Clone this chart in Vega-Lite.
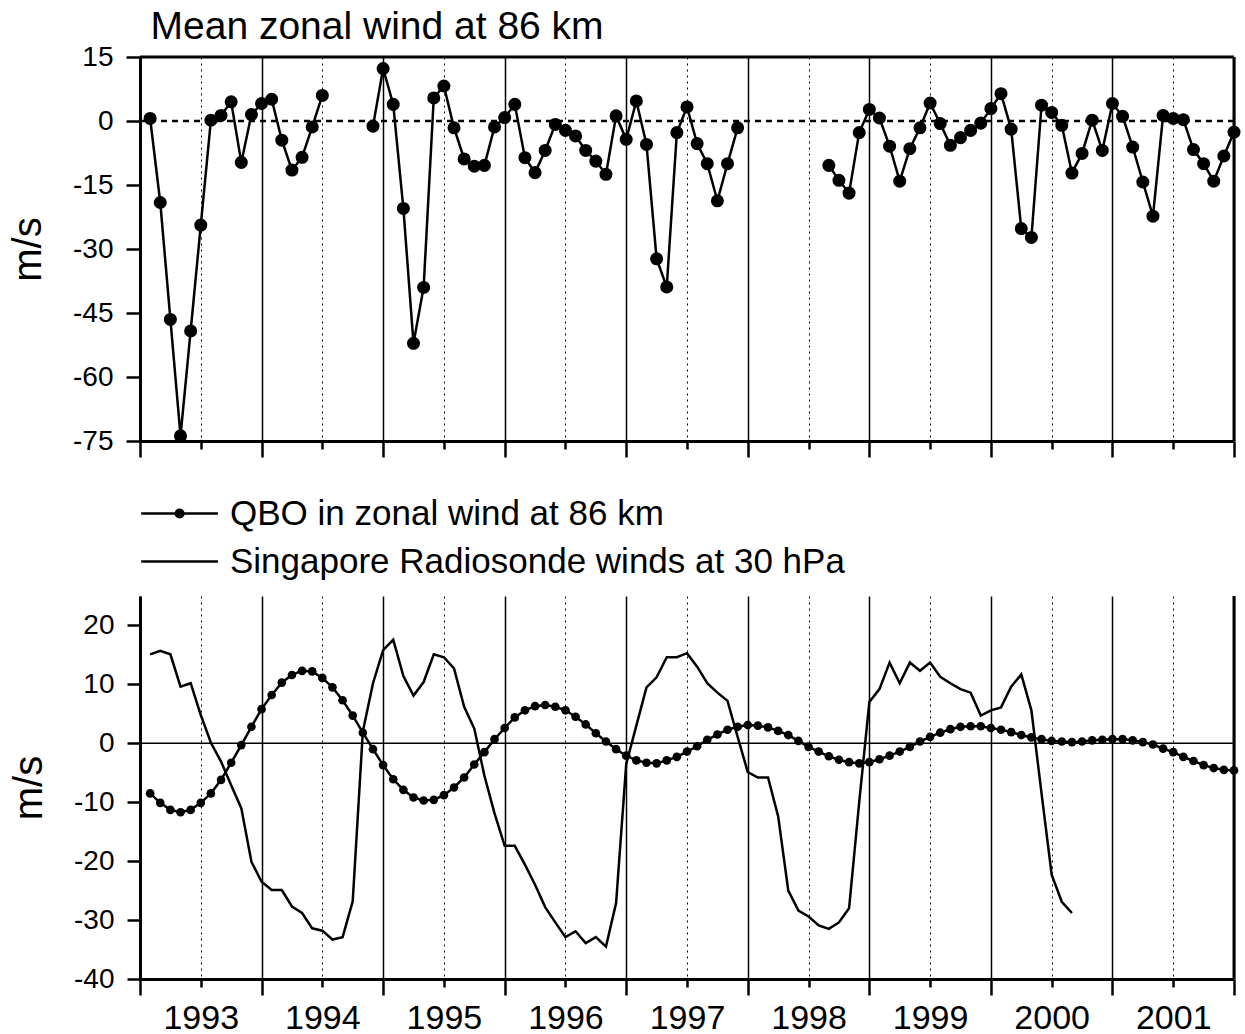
{
  "$schema": "https://vega.github.io/schema/vega-lite/v6.json",
  "padding": {"left": 8, "top": 8, "right": 5, "bottom": 0},
  "spacing": 37,
  "bounds": "full",
  "title": {"text": "Mean zonal wind at 86 km", "anchor": "start", "fontSize": 39, "font": "Liberation Sans", "fontWeight": "normal", "color": "black", "dx": 142, "offset": -35, "baseline": "alphabetic"},
  "resolve": {"scale": {"color": "independent"}, "legend": {"color": "independent"}},
  "config": {
    "font": "Liberation Sans",
    "view": {"stroke": null},
    "axis": {
      "domainColor": "black", "domainWidth": 3, "tickColor": "black", "tickWidth": 2.5,
      "labelColor": "black", "titleColor": "black", "labelFont": "Liberation Sans",
      "titleFont": "Liberation Sans", "titleFontWeight": "normal", "gridColor": "black"
    }
  },
  "datasets": {
    "top": [
      {"t":1993.0833,"v":0.6},{"t":1993.1667,"v":-19.1},{"t":1993.25,"v":-46.5},{"t":1993.3333,"v":-73.8},
      {"t":1993.4167,"v":-49.2},{"t":1993.5,"v":-24.4},{"t":1993.5833,"v":0.2},{"t":1993.6667,"v":1.3},
      {"t":1993.75,"v":4.5},{"t":1993.8333,"v":-9.7},{"t":1993.9167,"v":1.5},{"t":1994,"v":4.1},
      {"t":1994.0833,"v":5.1},{"t":1994.1667,"v":-4.5},{"t":1994.25,"v":-11.5},{"t":1994.3333,"v":-8.5},
      {"t":1994.4167,"v":-1.4},{"t":1994.5,"v":6.0},{"t":1994.5833,"v":null},{"t":1994.6667,"v":null},
      {"t":1994.75,"v":null},{"t":1994.8333,"v":null},{"t":1994.9167,"v":-1.2},{"t":1995,"v":12.3},
      {"t":1995.0833,"v":3.9},{"t":1995.1667,"v":-20.5},{"t":1995.25,"v":-52.1},{"t":1995.3333,"v":-39.0},
      {"t":1995.4167,"v":5.4},{"t":1995.5,"v":8.2},{"t":1995.5833,"v":-1.6},{"t":1995.6667,"v":-8.9},
      {"t":1995.75,"v":-10.6},{"t":1995.8333,"v":-10.4},{"t":1995.9167,"v":-1.4},{"t":1996,"v":0.8},
      {"t":1996.0833,"v":3.9},{"t":1996.1667,"v":-8.6},{"t":1996.25,"v":-12.1},{"t":1996.3333,"v":-6.9},
      {"t":1996.4167,"v":-0.8},{"t":1996.5,"v":-2.2},{"t":1996.5833,"v":-3.5},{"t":1996.6667,"v":-6.9},
      {"t":1996.75,"v":-9.4},{"t":1996.8333,"v":-12.5},{"t":1996.9167,"v":1.2},{"t":1997,"v":-4.3},
      {"t":1997.0833,"v":4.7},{"t":1997.1667,"v":-5.5},{"t":1997.25,"v":-32.3},{"t":1997.3333,"v":-38.9},
      {"t":1997.4167,"v":-2.7},{"t":1997.5,"v":3.3},{"t":1997.5833,"v":-5.3},{"t":1997.6667,"v":-10.0},
      {"t":1997.75,"v":-18.7},{"t":1997.8333,"v":-10.0},{"t":1997.9167,"v":-1.6},{"t":1998,"v":null},
      {"t":1998.0833,"v":null},{"t":1998.1667,"v":null},{"t":1998.25,"v":null},{"t":1998.3333,"v":null},
      {"t":1998.4167,"v":null},{"t":1998.5,"v":null},{"t":1998.5833,"v":null},{"t":1998.6667,"v":-10.4},
      {"t":1998.75,"v":-13.9},{"t":1998.8333,"v":-16.9},{"t":1998.9167,"v":-2.7},{"t":1999,"v":2.7},
      {"t":1999.0833,"v":0.7},{"t":1999.1667,"v":-5.9},{"t":1999.25,"v":-14.1},{"t":1999.3333,"v":-6.5},
      {"t":1999.4167,"v":-1.6},{"t":1999.5,"v":4.2},{"t":1999.5833,"v":-0.6},{"t":1999.6667,"v":-5.7},
      {"t":1999.75,"v":-3.9},{"t":1999.8333,"v":-2.2},{"t":1999.9167,"v":-0.5},{"t":2000,"v":2.9},
      {"t":2000.0833,"v":6.4},{"t":2000.1667,"v":-1.9},{"t":2000.25,"v":-25.2},{"t":2000.3333,"v":-27.3},
      {"t":2000.4167,"v":3.7},{"t":2000.5,"v":2.0},{"t":2000.5833,"v":-1.0},{"t":2000.6667,"v":-12.2},
      {"t":2000.75,"v":-7.6},{"t":2000.8333,"v":0.2},{"t":2000.9167,"v":-6.9},{"t":2001,"v":4.1},
      {"t":2001.0833,"v":1.1},{"t":2001.1667,"v":-6.1},{"t":2001.25,"v":-14.3},{"t":2001.3333,"v":-22.3},
      {"t":2001.4167,"v":1.3},{"t":2001.5,"v":0.6},{"t":2001.5833,"v":0.3},{"t":2001.6667,"v":-6.7},
      {"t":2001.75,"v":-10.0},{"t":2001.8333,"v":-14.1},{"t":2001.9167,"v":-8.2},{"t":2002,"v":-2.6}
    ],
    "bot": [
      {"s":"QBO","t":1993.0833,"v":-8.5},{"s":"QBO","t":1993.1667,"v":-10.1},{"s":"QBO","t":1993.25,"v":-11.3},
      {"s":"QBO","t":1993.3333,"v":-11.7},{"s":"QBO","t":1993.4167,"v":-11.3},{"s":"QBO","t":1993.5,"v":-10.1},
      {"s":"QBO","t":1993.5833,"v":-8.5},{"s":"QBO","t":1993.6667,"v":-6.2},{"s":"QBO","t":1993.75,"v":-3.3},
      {"s":"QBO","t":1993.8333,"v":-0.3},{"s":"QBO","t":1993.9167,"v":2.8},{"s":"QBO","t":1994,"v":5.8},
      {"s":"QBO","t":1994.0833,"v":8.2},{"s":"QBO","t":1994.1667,"v":10.3},{"s":"QBO","t":1994.25,"v":11.6},
      {"s":"QBO","t":1994.3333,"v":12.3},{"s":"QBO","t":1994.4167,"v":12.2},{"s":"QBO","t":1994.5,"v":11.1},
      {"s":"QBO","t":1994.5833,"v":9.5},{"s":"QBO","t":1994.6667,"v":7.3},{"s":"QBO","t":1994.75,"v":4.7},
      {"s":"QBO","t":1994.8333,"v":1.8},{"s":"QBO","t":1994.9167,"v":-1.0},{"s":"QBO","t":1995,"v":-3.7},
      {"s":"QBO","t":1995.0833,"v":-6.1},{"s":"QBO","t":1995.1667,"v":-7.9},{"s":"QBO","t":1995.25,"v":-9.2},
      {"s":"QBO","t":1995.3333,"v":-9.7},{"s":"QBO","t":1995.4167,"v":-9.6},{"s":"QBO","t":1995.5,"v":-8.8},
      {"s":"QBO","t":1995.5833,"v":-7.5},{"s":"QBO","t":1995.6667,"v":-5.8},{"s":"QBO","t":1995.75,"v":-3.6},
      {"s":"QBO","t":1995.8333,"v":-1.5},{"s":"QBO","t":1995.9167,"v":0.7},{"s":"QBO","t":1996,"v":2.6},
      {"s":"QBO","t":1996.0833,"v":4.4},{"s":"QBO","t":1996.1667,"v":5.6},{"s":"QBO","t":1996.25,"v":6.3},
      {"s":"QBO","t":1996.3333,"v":6.5},{"s":"QBO","t":1996.4167,"v":6.2},{"s":"QBO","t":1996.5,"v":5.6},
      {"s":"QBO","t":1996.5833,"v":4.5},{"s":"QBO","t":1996.6667,"v":3.2},{"s":"QBO","t":1996.75,"v":1.7},
      {"s":"QBO","t":1996.8333,"v":0.3},{"s":"QBO","t":1996.9167,"v":-1.0},{"s":"QBO","t":1997,"v":-2.1},
      {"s":"QBO","t":1997.0833,"v":-2.9},{"s":"QBO","t":1997.1667,"v":-3.3},{"s":"QBO","t":1997.25,"v":-3.4},
      {"s":"QBO","t":1997.3333,"v":-2.9},{"s":"QBO","t":1997.4167,"v":-2.3},{"s":"QBO","t":1997.5,"v":-1.4},
      {"s":"QBO","t":1997.5833,"v":-0.5},{"s":"QBO","t":1997.6667,"v":0.6},{"s":"QBO","t":1997.75,"v":1.5},
      {"s":"QBO","t":1997.8333,"v":2.3},{"s":"QBO","t":1997.9167,"v":2.8},{"s":"QBO","t":1998,"v":3.1},
      {"s":"QBO","t":1998.0833,"v":3.0},{"s":"QBO","t":1998.1667,"v":2.7},{"s":"QBO","t":1998.25,"v":2.1},
      {"s":"QBO","t":1998.3333,"v":1.4},{"s":"QBO","t":1998.4167,"v":0.4},{"s":"QBO","t":1998.5,"v":-0.6},
      {"s":"QBO","t":1998.5833,"v":-1.4},{"s":"QBO","t":1998.6667,"v":-2.2},{"s":"QBO","t":1998.75,"v":-2.8},
      {"s":"QBO","t":1998.8333,"v":-3.2},{"s":"QBO","t":1998.9167,"v":-3.4},{"s":"QBO","t":1999,"v":-3.2},
      {"s":"QBO","t":1999.0833,"v":-2.7},{"s":"QBO","t":1999.1667,"v":-2.1},{"s":"QBO","t":1999.25,"v":-1.4},
      {"s":"QBO","t":1999.3333,"v":-0.6},{"s":"QBO","t":1999.4167,"v":0.3},{"s":"QBO","t":1999.5,"v":1.1},
      {"s":"QBO","t":1999.5833,"v":1.8},{"s":"QBO","t":1999.6667,"v":2.4},{"s":"QBO","t":1999.75,"v":2.8},
      {"s":"QBO","t":1999.8333,"v":2.9},{"s":"QBO","t":1999.9167,"v":2.9},{"s":"QBO","t":2000,"v":2.6},
      {"s":"QBO","t":2000.0833,"v":2.3},{"s":"QBO","t":2000.1667,"v":1.9},{"s":"QBO","t":2000.25,"v":1.4},
      {"s":"QBO","t":2000.3333,"v":1.0},{"s":"QBO","t":2000.4167,"v":0.7},{"s":"QBO","t":2000.5,"v":0.4},
      {"s":"QBO","t":2000.5833,"v":0.3},{"s":"QBO","t":2000.6667,"v":0.2},{"s":"QBO","t":2000.75,"v":0.3},
      {"s":"QBO","t":2000.8333,"v":0.5},{"s":"QBO","t":2000.9167,"v":0.6},{"s":"QBO","t":2001,"v":0.7},
      {"s":"QBO","t":2001.0833,"v":0.7},{"s":"QBO","t":2001.1667,"v":0.5},{"s":"QBO","t":2001.25,"v":0.2},
      {"s":"QBO","t":2001.3333,"v":-0.2},{"s":"QBO","t":2001.4167,"v":-0.9},{"s":"QBO","t":2001.5,"v":-1.5},
      {"s":"QBO","t":2001.5833,"v":-2.3},{"s":"QBO","t":2001.6667,"v":-3.0},{"s":"QBO","t":2001.75,"v":-3.7},
      {"s":"QBO","t":2001.8333,"v":-4.2},{"s":"QBO","t":2001.9167,"v":-4.5},{"s":"QBO","t":2002,"v":-4.6},
      {"s":"SING","t":1993.0833,"v":15.1},{"s":"SING","t":1993.1667,"v":15.7},{"s":"SING","t":1993.25,"v":15.1},
      {"s":"SING","t":1993.3333,"v":9.6},{"s":"SING","t":1993.4167,"v":10.2},{"s":"SING","t":1993.5,"v":4.8},
      {"s":"SING","t":1993.5833,"v":0.1},{"s":"SING","t":1993.6667,"v":-3.1},{"s":"SING","t":1993.75,"v":-7.1},
      {"s":"SING","t":1993.8333,"v":-11.0},{"s":"SING","t":1993.9167,"v":-20.1},{"s":"SING","t":1994,"v":-23.5},
      {"s":"SING","t":1994.0833,"v":-24.9},{"s":"SING","t":1994.1667,"v":-24.9},{"s":"SING","t":1994.25,"v":-27.7},
      {"s":"SING","t":1994.3333,"v":-28.8},{"s":"SING","t":1994.4167,"v":-31.4},{"s":"SING","t":1994.5,"v":-31.8},
      {"s":"SING","t":1994.5833,"v":-33.3},{"s":"SING","t":1994.6667,"v":-32.9},{"s":"SING","t":1994.75,"v":-26.8},
      {"s":"SING","t":1994.8333,"v":2.0},{"s":"SING","t":1994.9167,"v":10.2},{"s":"SING","t":1995,"v":15.8},
      {"s":"SING","t":1995.0833,"v":17.6},{"s":"SING","t":1995.1667,"v":11.4},{"s":"SING","t":1995.25,"v":8.1},
      {"s":"SING","t":1995.3333,"v":10.4},{"s":"SING","t":1995.4167,"v":15.1},{"s":"SING","t":1995.5,"v":14.6},
      {"s":"SING","t":1995.5833,"v":12.7},{"s":"SING","t":1995.6667,"v":6.2},{"s":"SING","t":1995.75,"v":2.5},
      {"s":"SING","t":1995.8333,"v":-5.5},{"s":"SING","t":1995.9167,"v":-11.9},{"s":"SING","t":1996,"v":-17.4},
      {"s":"SING","t":1996.0833,"v":-17.4},{"s":"SING","t":1996.1667,"v":-20.6},{"s":"SING","t":1996.25,"v":-24.0},
      {"s":"SING","t":1996.3333,"v":-27.8},{"s":"SING","t":1996.4167,"v":-30.4},{"s":"SING","t":1996.5,"v":-32.9},
      {"s":"SING","t":1996.5833,"v":-31.9},{"s":"SING","t":1996.6667,"v":-33.9},{"s":"SING","t":1996.75,"v":-32.9},
      {"s":"SING","t":1996.8333,"v":-34.5},{"s":"SING","t":1996.9167,"v":-27.1},{"s":"SING","t":1997,"v":-3.5},
      {"s":"SING","t":1997.0833,"v":3.0},{"s":"SING","t":1997.1667,"v":9.5},{"s":"SING","t":1997.25,"v":11.2},
      {"s":"SING","t":1997.3333,"v":14.6},{"s":"SING","t":1997.4167,"v":14.6},{"s":"SING","t":1997.5,"v":15.3},
      {"s":"SING","t":1997.5833,"v":13.0},{"s":"SING","t":1997.6667,"v":10.2},{"s":"SING","t":1997.75,"v":8.6},
      {"s":"SING","t":1997.8333,"v":7.2},{"s":"SING","t":1997.9167,"v":1.1},{"s":"SING","t":1998,"v":-4.9},
      {"s":"SING","t":1998.0833,"v":-5.8},{"s":"SING","t":1998.1667,"v":-5.8},{"s":"SING","t":1998.25,"v":-12.4},
      {"s":"SING","t":1998.3333,"v":-25.0},{"s":"SING","t":1998.4167,"v":-28.4},{"s":"SING","t":1998.5,"v":-29.4},
      {"s":"SING","t":1998.5833,"v":-30.9},{"s":"SING","t":1998.6667,"v":-31.5},{"s":"SING","t":1998.75,"v":-30.4},
      {"s":"SING","t":1998.8333,"v":-28.0},{"s":"SING","t":1998.9167,"v":-10.0},{"s":"SING","t":1999,"v":7.0},
      {"s":"SING","t":1999.0833,"v":9.2},{"s":"SING","t":1999.1667,"v":13.7},{"s":"SING","t":1999.25,"v":10.2},
      {"s":"SING","t":1999.3333,"v":13.7},{"s":"SING","t":1999.4167,"v":12.3},{"s":"SING","t":1999.5,"v":13.7},
      {"s":"SING","t":1999.5833,"v":11.3},{"s":"SING","t":1999.6667,"v":10.2},{"s":"SING","t":1999.75,"v":9.2},
      {"s":"SING","t":1999.8333,"v":8.6},{"s":"SING","t":1999.9167,"v":4.7},{"s":"SING","t":2000,"v":5.6},
      {"s":"SING","t":2000.0833,"v":6.1},{"s":"SING","t":2000.1667,"v":9.6},{"s":"SING","t":2000.25,"v":11.7},
      {"s":"SING","t":2000.3333,"v":5.6},{"s":"SING","t":2000.4167,"v":-8.5},{"s":"SING","t":2000.5,"v":-22.3},
      {"s":"SING","t":2000.5833,"v":-26.9},{"s":"SING","t":2000.6667,"v":-28.8}
    ]
  },
  "vconcat": [
    {
      "width": 1094,
      "height": 384,
      "layer": [
        {
          "data": {"values": [{}]},
          "mark": {"type": "rule", "color": "black", "strokeWidth": 2.5, "strokeDash": [6, 5]},
          "encoding": {"y": {"datum": 0, "type": "quantitative"}}
        },
        {
          "data": {"values": [{}]},
          "mark": {"type": "rule", "color": "black", "strokeWidth": 3},
          "encoding": {"y": {"datum": 15, "type": "quantitative"}}
        },
        {
          "data": {"values": [{}]},
          "mark": {"type": "rule", "color": "black", "strokeWidth": 3},
          "encoding": {"x": {"datum": 2002, "type": "quantitative"}}
        },
        {
          "data": {"name": "top"},
          "mark": {"type": "line", "color": "black", "strokeWidth": 2.5, "invalid": "break-paths-filter-domains"},
          "encoding": {
            "x": {"field": "t", "type": "quantitative",
              "scale": {"domain": [1993, 2002], "nice": false, "zero": false},
              "axis": {"title": null, "labels": false, "grid": true,
                "values": [1993,1993.25,1993.5,1993.75,1994,1994.25,1994.5,1994.75,1995,1995.25,1995.5,1995.75,1996,1996.25,1996.5,1996.75,1997,1997.25,1997.5,1997.75,1998,1998.25,1998.5,1998.75,1999,1999.25,1999.5,1999.75,2000,2000.25,2000.5,2000.75,2001,2001.25,2001.5,2001.75,2002],
                "gridDash": {"condition": {"test": "datum.value % 1 != 0", "value": [2, 4]}, "value": []},
                "gridWidth": {"condition": {"test": "datum.value % 1 != 0", "value": 1}, "value": 1.5},
                "tickSize": {"condition": {"test": "datum.value % 1 != 0", "value": 8}, "value": 16}
              }
            },
            "y": {"field": "v", "type": "quantitative",
              "scale": {"domain": [-75, 15], "nice": false, "zero": false},
              "axis": {"title": "m/s", "titleFontSize": 40, "titlePadding": 24, "values": [-75, -60, -45, -30, -15, 0, 15],
                "labelExpr": "'' + datum.value",
                "tickSize": 14, "labelPadding": 13, "labelFontSize": 28, "grid": false}
            }
          }
        },
        {
          "data": {"name": "top"},
          "mark": {"type": "circle", "color": "black", "size": 170, "opacity": 1},
          "encoding": {
            "x": {"field": "t", "type": "quantitative"},
            "y": {"field": "v", "type": "quantitative"}
          }
        }
      ]
    },
    {
      "width": 1094,
      "height": 383,
      "layer": [
        {
          "data": {"values": [{}]},
          "mark": {"type": "rule", "color": "black", "strokeWidth": 1.5},
          "encoding": {"y": {"datum": 0, "type": "quantitative"}}
        },
        {
          "data": {"values": [{}]},
          "mark": {"type": "rule", "color": "black", "strokeWidth": 3},
          "encoding": {"x": {"datum": 2002, "type": "quantitative"}}
        },
        {
          "data": {"name": "bot"},
          "mark": {"type": "line", "strokeWidth": 2.5},
          "encoding": {
            "x": {"field": "t", "type": "quantitative",
              "scale": {"domain": [1993, 2002], "nice": false, "zero": false},
              "axis": {"title": null, "grid": true, "labelOverlap": false, "labelFlush": false,
                "values": [1993,1993.25,1993.5,1993.75,1994,1994.25,1994.5,1994.75,1995,1995.25,1995.5,1995.75,1996,1996.25,1996.5,1996.75,1997,1997.25,1997.5,1997.75,1998,1998.25,1998.5,1998.75,1999,1999.25,1999.5,1999.75,2000,2000.25,2000.5,2000.75,2001,2001.25,2001.5,2001.75,2002],
                "labelExpr": "datum.value % 1 == 0.5 ? floor(datum.value) : ''",
                "labelFontSize": 34, "labelPadding": 14,
                "gridDash": {"condition": {"test": "datum.value % 1 != 0", "value": [2, 4]}, "value": []},
                "gridWidth": {"condition": {"test": "datum.value % 1 != 0", "value": 1}, "value": 1.5},
                "tickSize": {"condition": {"test": "datum.value % 1 != 0", "value": 8}, "value": 16}
              }
            },
            "y": {"field": "v", "type": "quantitative",
              "scale": {"domain": [-40, 25], "nice": false, "zero": false},
              "axis": {"title": "m/s", "titleFontSize": 40, "titlePadding": 24,
                "values": [-40, -35, -30, -25, -20, -15, -10, -5, 0, 5, 10, 15, 20],
                "labelExpr": "datum.value % 10 == 0 ? '' + datum.value : ''",
                "tickSize": 13, "labelPadding": 13, "labelFontSize": 28, "grid": false}
            },
            "color": {"field": "s", "type": "nominal",
              "scale": {"domain": ["QBO", "SING"], "range": ["black", "black"]},
              "legend": {"title": null, "orient": "top", "direction": "vertical", "offset": 16,
                "labelFontSize": 35, "labelFont": "Liberation Sans", "labelColor": "black", "labelLimit": 1000,
                "labelExpr": "datum.value == 'QBO' ? 'QBO in zonal wind at 86 km' : 'Singapore Radiosonde winds at 30 hPa'",
                "symbolSize": 369, "symbolStrokeWidth": 2.5, "symbolType": "M-1.7,0L6.3,0", "symbolStrokeColor": "black",
                "labelOffset": 55, "rowPadding": 12, "padding": 0,
                "encoding": {"symbols": {
                  "shape": {"condition": {"test": "datum.value == 'QBO'", "value": "M-1.7,0L6.3,0M1.9,0A0.4,0.4,0,1,0,2.7,0A0.4,0.4,0,1,0,1.9,0Z"}, "value": "M-1.7,0L6.3,0"},
                  "fill": {"value": "black"}
                }}
              }
            }
          }
        },
        {
          "data": {"name": "bot"},
          "transform": [{"filter": "datum.s == 'QBO'"}],
          "mark": {"type": "circle", "color": "black", "size": 75, "opacity": 1},
          "encoding": {
            "x": {"field": "t", "type": "quantitative"},
            "y": {"field": "v", "type": "quantitative"}
          }
        }
      ]
    }
  ]
}
